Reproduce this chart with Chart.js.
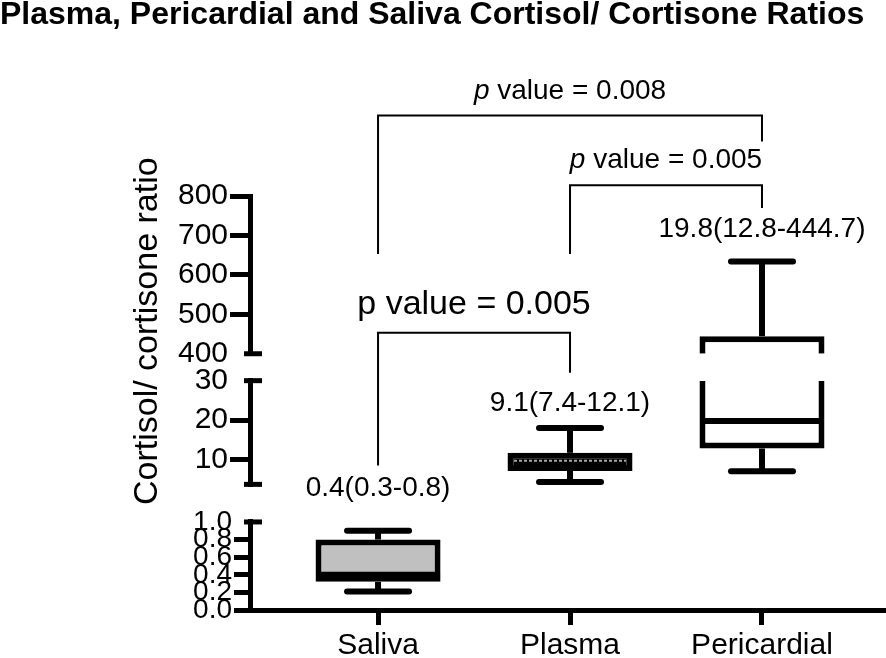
<!DOCTYPE html>
<html>
<head>
<meta charset="utf-8">
<title>Cortisol / Cortisone ratios</title>
<script src="https://cdn.jsdelivr.net/npm/chart.js@4.4.1/dist/chart.umd.min.js"></script>
<style>
  html, body { margin: 0; padding: 0; background: #fff; }
  #wrap { width: 886px; height: 658px; }
</style>
</head>
<body>
<div id="wrap"><canvas id="ratioChart" width="886" height="658"></canvas></div>
<script>
const categories = ["Saliva", "Plasma", "Pericardial"];
const whiskerLow = [0.21, 4.3, 7.0];
const quartile1 = [0.32, 7.1, 12.8];
const medians = [0.4, 9.7, 19.8];
const quartile3 = [0.8, 11.7, 444.7];
const whiskerHigh = [0.9, 18, 634];
const summaryText = ["0.4(0.3-0.8)", "9.1(7.4-12.1)", "19.8(12.8-444.7)"];

// broken y axis, one scale per piece, top to bottom
const segmentIds = ["yTop", "yMid", "yLow"];
const segmentMin = [400, 3.7, 0];
const segmentMax = [800, 30, 1];
const topTicks = [400, 500, 600, 700, 800];
const midTicks = [10, 20, 30];
const lowTicks = [0, 0.2, 0.4, 0.6, 0.8, 1.0];

// pairwise comparisons
const pairFrom = [0, 1, 0];
const pairTo = [2, 2, 1];
const pValues = ["0.008", "0.005", "0.005"];

// where the annotations sit, as [scale id, value]
const bracketBar = [["yTop", 1005], ["yTop", 828], ["yTop", 453]];
const bracketLeftEnd = [["yTop", 653], ["yTop", 653], ["yMid", 8.5]];
const bracketRightEnd = [["yTop", 939], ["yTop", 770], ["yMid", 32]];
const pTextAt = [["yTop", 1046], ["yTop", 871], ["yTop", 501]];
const summaryAt = [["yLow", 1.30], ["yMid", 22.4], ["yTop", 696]];

const boxFill = ["#c0c0c0", "#000000", "#ffffff"];
const medianDashed = [false, true, false];

const FONT = "'Liberation Sans', Arial, Helvetica, sans-serif";
Chart.defaults.font.family = FONT;
Chart.defaults.color = "#000";

function yPix(chart, at) {
  return chart.scales[at[0]].getPixelForValue(at[1]);
}

function strokeLine(ctx, x1, y1, x2, y2) {
  ctx.beginPath();
  ctx.moveTo(x1, y1);
  ctx.lineTo(x2, y2);
  ctx.stroke();
}

const boxPlotExtras = {
  id: "boxPlotExtras",
  afterDatasetsDraw(chart) {
    const ctx = chart.ctx;
    const xs = chart.scales.x;
    ctx.save();
    ctx.strokeStyle = "#000";
    categories.forEach((c, i) => {
      const px = xs.getPixelForValue(i);
      segmentIds.forEach((id, k) => {
        const ys = chart.scales[id];
        const lo = segmentMin[k], hi = segmentMax[k];
        ctx.lineWidth = 6;
        ctx.setLineDash([]);
        ctx.lineCap = "butt";
        [[quartile3[i], whiskerHigh[i]], [whiskerLow[i], quartile1[i]]].forEach(([a, b]) => {
          const s = Math.max(a, lo), e = Math.min(b, hi);
          if (s < e) strokeLine(ctx, px, ys.getPixelForValue(s), px, ys.getPixelForValue(e));
        });
        ctx.lineCap = "round";
        [whiskerLow[i], whiskerHigh[i]].forEach(v => {
          if (v >= lo && v <= hi) {
            const y = ys.getPixelForValue(v);
            strokeLine(ctx, px - 31, y, px + 31, y);
          }
        });
        if (medians[i] >= lo && medians[i] <= hi) {
          const y = ys.getPixelForValue(medians[i]);
          ctx.lineCap = "butt";
          if (medianDashed[i]) {
            ctx.strokeStyle = "#a8a8a8";
            ctx.lineWidth = 2;
            ctx.setLineDash([3, 2]);
            strokeLine(ctx, px - 56, y, px + 56, y);
            ctx.strokeStyle = "#000";
            ctx.setLineDash([]);
          } else {
            strokeLine(ctx, px - 62, y, px + 62, y);
          }
        }
      });
    });
    ctx.restore();
  },
  afterDraw(chart) {
    const ctx = chart.ctx;
    const xs = chart.scales.x;
    const area = chart.chartArea;
    ctx.save();
    ctx.strokeStyle = "#000";
    ctx.fillStyle = "#000";

    // caps at the axis breaks
    ctx.lineWidth = 5;
    ctx.lineCap = "butt";
    segmentIds.forEach((id, k) => {
      const ys = chart.scales[id];
      if (k > 0) {
        const y = ys.getPixelForValue(segmentMax[k]);
        strokeLine(ctx, area.left - 6, y, area.left + 12, y);
      }
      if (k < segmentIds.length - 1) {
        const y = ys.getPixelForValue(segmentMin[k]);
        strokeLine(ctx, area.left - 6, y, area.left + 12, y);
      }
    });

    // comparison brackets
    ctx.lineWidth = 2;
    ctx.lineJoin = "miter";
    pairFrom.forEach((f, j) => {
      const x1 = xs.getPixelForValue(f);
      const x2 = xs.getPixelForValue(pairTo[j]);
      const yb = yPix(chart, bracketBar[j]);
      ctx.beginPath();
      ctx.moveTo(x1, yPix(chart, bracketLeftEnd[j]));
      ctx.lineTo(x1, yb);
      ctx.lineTo(x2, yb);
      ctx.lineTo(x2, yPix(chart, bracketRightEnd[j]));
      ctx.stroke();

      const cx = xs.getPixelForValue((f + pairTo[j]) / 2);
      const ty = yPix(chart, pTextAt[j]);
      ctx.textBaseline = "alphabetic";
      ctx.textAlign = "left";
      if (j < 2) {
        const italicFont = "italic 28px " + FONT;
        const plainFont = "28px " + FONT;
        const rest = " value = " + pValues[j];
        ctx.font = italicFont;
        const w1 = ctx.measureText("p").width;
        ctx.font = plainFont;
        const w2 = ctx.measureText(rest).width;
        const start = cx - (w1 + w2) / 2;
        ctx.font = italicFont;
        ctx.fillText("p", start, ty);
        ctx.font = plainFont;
        ctx.fillText(rest, start + w1, ty);
      } else {
        ctx.font = "34px " + FONT;
        ctx.textAlign = "center";
        ctx.fillText("p value = " + pValues[j], cx, ty);
      }
    });

    // median (IQR) labels
    ctx.font = "28px " + FONT;
    ctx.textAlign = "center";
    ctx.textBaseline = "alphabetic";
    summaryText.forEach((t, i) => {
      ctx.fillText(t, xs.getPixelForValue(i), yPix(chart, summaryAt[i]));
    });

    // y axis title
    ctx.save();
    ctx.translate(area.left - 102, area.top + 135);
    ctx.rotate(-Math.PI / 2);
    ctx.font = "34px " + FONT;
    ctx.textAlign = "center";
    ctx.textBaseline = "middle";
    ctx.fillText("Cortisol/ cortisone ratio", 0, 0);
    ctx.restore();

    ctx.restore();
  }
};

function segmentScale(k, tickValues, weight, stackWeight, fontSize, decimals, tickLen) {
  const cutValues = [];
  if (k > 0) cutValues.push(segmentMax[k]);
  if (k < segmentIds.length - 1) cutValues.push(segmentMin[k]);
  return {
    type: "linear",
    axis: "y",
    position: "left",
    stack: "broken",
    stackWeight: stackWeight,
    weight: weight,
    min: segmentMin[k],
    max: segmentMax[k],
    afterBuildTicks: s => { s.ticks = tickValues.map(v => ({ value: v })); },
    afterFit: s => { s.width = 250; },
    ticks: {
      autoSkip: false,
      padding: 2,
      font: { size: fontSize },
      color: "#000",
      callback: v => v.toFixed(decimals)
    },
    grid: {
      drawOnChartArea: false,
      drawTicks: true,
      tickLength: tickLen,
      lineWidth: 5,
      color: c => (c.tick && cutValues.includes(c.tick.value)) ? "rgba(0,0,0,0)" : "#000"
    },
    border: { display: true, color: "#000", width: 5 }
  };
}

function spacerScale(weight, stackWeight) {
  return {
    type: "linear",
    axis: "y",
    position: "left",
    stack: "broken",
    stackWeight: stackWeight,
    weight: weight,
    afterFit: s => { s.width = 250; },
    ticks: { display: false },
    grid: { display: false },
    border: { display: false }
  };
}

const datasets = segmentIds.map((id, k) => ({
  type: "bar",
  yAxisID: id,
  data: categories
    .map((c, i) => ({ x: i, y: [Math.max(quartile1[i], segmentMin[k]), Math.min(quartile3[i], segmentMax[k])] }))
    .filter(d => d.y[0] < d.y[1]),
  backgroundColor: c => (c.raw ? boxFill[c.raw.x] : "#fff"),
  borderColor: "#000",
  borderWidth: 6,
  borderSkipped: c => {
    if (!c.raw) return false;
    const i = c.raw.x;
    if (quartile3[i] > segmentMax[k]) return "top";
    if (quartile1[i] < segmentMin[k]) return "bottom";
    return false;
  },
  barThickness: 125,
  grouped: false,
  inflateAmount: 0
}));

new Chart(document.getElementById("ratioChart"), {
  type: "bar",
  data: { datasets: datasets },
  options: {
    responsive: false,
    animation: false,
    layout: { padding: 0 },
    plugins: {
      legend: { display: false },
      tooltip: { enabled: false },
      title: {
        display: true,
        text: "Plasma, Pericardial and Saliva Cortisol/ Cortisone Ratios",
        align: "start",
        color: "#000",
        font: { size: 32, weight: "bold" },
        padding: { top: -4, bottom: 161.8 }
      }
    },
    scales: {
      x: {
        type: "linear",
        position: "bottom",
        min: -0.667,
        max: 2.646,
        offset: false,
        afterBuildTicks: s => { s.ticks = categories.map((c, i) => ({ value: i })); },
        afterFit: s => { s.height = 48; },
        ticks: {
          padding: 3,
          font: { size: 30 },
          color: "#000",
          callback: v => categories[v]
        },
        grid: {
          offset: false,
          drawOnChartArea: false,
          drawTicks: true,
          tickLength: 15,
          lineWidth: 5,
          color: "#000"
        },
        border: { display: true, color: "#000", width: 5 }
      },
      yTop: segmentScale(0, topTicks, 5, 158, 30, 0, 20),
      gap1: spacerScale(4, 27),
      yMid: segmentScale(1, midTicks, 3, 104, 30, 0, 20),
      gap2: spacerScale(2, 37.7),
      yLow: segmentScale(2, lowTicks, 1, 88.3, 28, 1, 16)
    }
  },
  plugins: [boxPlotExtras]
});
</script>
</body>
</html>
